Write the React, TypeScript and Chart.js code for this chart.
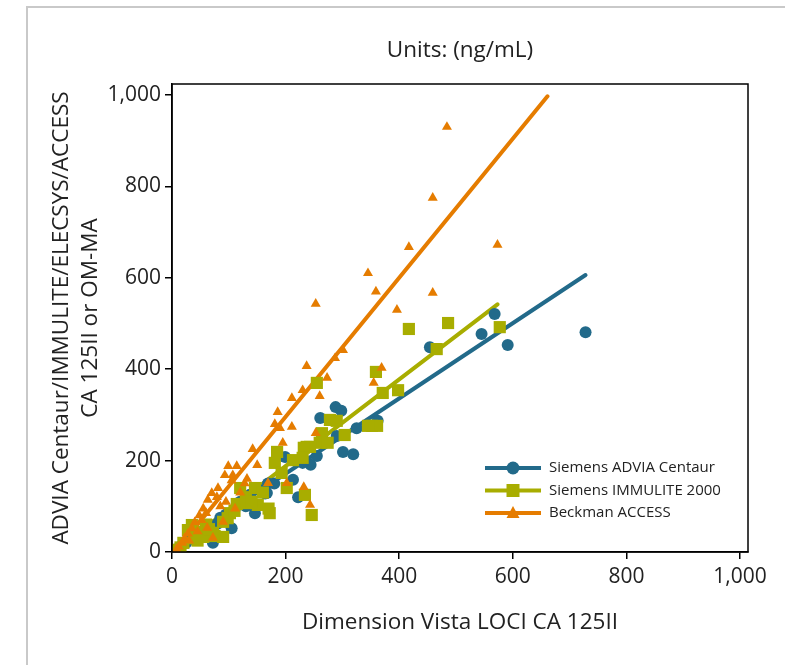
import React, { useEffect, useRef } from 'react';
import { Chart, registerables } from 'chart.js';

Chart.register(...registerables);

// ---- data ----
const centaurX = [728, 568, 545, 591, 454, 362, 348, 325, 288, 298, 261, 290, 301, 319, 244, 213, 222, 167, 146, 137, 105, 72, 199, 169, 164, 120, 95, 60, 40, 25, 15, 50, 80, 110, 130, 155, 180, 230, 255, 8, 30, 65, 85];
const centaurY = [481, 521, 477, 453, 448, 287, 276, 271, 317, 309, 293, 254, 219, 214, 191, 158, 120, 129, 85, 125, 52, 20, 208, 150, 128, 110, 82, 50, 32, 20, 12, 40, 62, 92, 100, 135, 150, 195, 210, 6, 28, 58, 75];

const immuliteX = [486, 417, 577, 466, 359, 371, 398, 352, 361, 255, 290, 304, 264, 237, 260, 274, 243, 278, 345, 232, 213, 230, 185, 181, 193, 202, 234, 246, 146, 172, 151, 132, 114, 102, 90, 90, 72, 49, 28, 20, 98, 35, 55, 75, 130, 160, 110, 60, 40, 15, 10, 120, 65, 45, 140, 170];
const immuliteY = [501, 488, 492, 444, 394, 348, 354, 276, 276, 370, 287, 256, 260, 230, 239, 239, 230, 289, 276, 228, 201, 206, 219, 195, 173, 140, 125, 81, 140, 85, 103, 107, 105, 85, 66, 33, 42, 44, 48, 20, 74, 59, 33, 35, 120, 130, 90, 60, 30, 10, 5, 140, 50, 25, 110, 95];

const accessX = [484, 459, 417, 573, 345, 359, 459, 396, 253, 369, 355, 301, 287, 237, 273, 260, 230, 211, 186, 181, 211, 190, 195, 253, 142, 150, 99, 114, 93, 107, 105, 132, 81, 169, 202, 232, 243, 111, 90, 62, 72, 70, 79, 63, 55, 48, 40, 35, 28, 22, 18, 12, 8, 30, 45, 52, 60, 85, 95, 120, 128];
const accessY = [930, 775, 667, 672, 610, 570, 567, 530, 543, 403, 370, 442, 424, 407, 381, 341, 354, 337, 306, 280, 274, 271, 239, 260, 225, 190, 188, 188, 168, 168, 157, 160, 140, 151, 151, 142, 103, 95, 66, 53, 31, 129, 120, 114, 95, 80, 65, 52, 40, 30, 20, 12, 6, 25, 45, 70, 85, 100, 110, 130, 150];

// regression line end points
const centaurFitX = [5, 728];
const centaurFitY = [11, 606];
const immuliteFitX = [5, 573];
const immuliteFitY = [3, 542];
const accessFitX = [8, 661];
const accessFitY = [4, 997];

const seriesNames = ['Siemens ADVIA Centaur', 'Siemens IMMULITE 2000', 'Beckman ACCESS'];
const tickValues = [0, 200, 400, 600, 800, 1000];
const titleText = 'Units: (ng/mL)';
const xTitle = 'Dimension Vista LOCI CA 125II';
const yTitle = ['ADVIA Centaur/IMMULITE/ELECSYS/ACCESS', 'CA 125II or OM-MA'];

const BLUE = '#226A8A';
const GREEN = '#A8AD00';
const ORANGE = '#E57C00';
const FONT = '"Open Sans", "Noto Sans", sans-serif';

const pts = (xs: number[], ys: number[]) => xs.map((x, i) => ({ x, y: ys[i] }));
const fmt = (v: number) => Number(v).toLocaleString('en-US');

const boxPlugin = {
  id: 'box',
  afterDraw(chart: any) {
    const { ctx, chartArea: a } = chart;
    ctx.save();
    ctx.strokeStyle = '#000';
    ctx.lineWidth = 1.5;
    ctx.strokeRect(a.left, a.top, a.right - a.left, a.bottom - a.top);
    ctx.restore();
  },
};

const legendPlugin = {
  id: 'customLegend',
  afterDraw(chart: any) {
    const { ctx, chartArea: a } = chart;
    const colors = [BLUE, GREEN, ORANGE];
    const x0 = a.right - 263;
    const x1 = x0 + 56;
    const mx = (x0 + x1) / 2;
    ctx.save();
    ctx.font = `15px ${FONT}`;
    ctx.textBaseline = 'middle';
    ctx.textAlign = 'left';
    seriesNames.forEach((name, i) => {
      const y = a.bottom - 84 + i * 22.5;
      ctx.strokeStyle = colors[i];
      ctx.fillStyle = colors[i];
      ctx.lineWidth = 4;
      ctx.beginPath();
      ctx.moveTo(x0, y);
      ctx.lineTo(x1, y);
      ctx.stroke();
      ctx.beginPath();
      if (i === 0) {
        ctx.arc(mx, y, 6.5, 0, Math.PI * 2);
      } else if (i === 1) {
        ctx.rect(mx - 6.5, y - 6.5, 13, 13);
      } else {
        ctx.moveTo(mx, y - 7);
        ctx.lineTo(mx + 6.5, y + 5);
        ctx.lineTo(mx - 6.5, y + 5);
        ctx.closePath();
      }
      ctx.fill();
      ctx.fillStyle = '#222';
      ctx.fillText(name, x1 + 8, y);
    });
    ctx.restore();
  },
};

export default function App() {
  const ref = useRef<HTMLCanvasElement | null>(null);

  useEffect(() => {
    if (!ref.current) return;
    const tickFont = { family: FONT, size: 21 };
    const setTicks = (s: any) => {
      s.ticks = tickValues.map((v) => ({ value: v }));
    };
    const chart = new Chart(ref.current, {
      type: 'scatter',
      data: {
        datasets: [
          { label: seriesNames[2], data: pts(accessX, accessY), pointStyle: 'triangle', pointRadius: 5.8, backgroundColor: ORANGE, borderColor: ORANGE, pointBorderWidth: 0, showLine: false, order: 0 },
          { label: seriesNames[1], data: pts(immuliteX, immuliteY), pointStyle: 'rect', pointRadius: 8.6, backgroundColor: GREEN, borderColor: GREEN, pointBorderWidth: 0, showLine: false, order: 1 },
          { label: seriesNames[0], data: pts(centaurX, centaurY), pointStyle: 'circle', pointRadius: 6, backgroundColor: BLUE, borderColor: BLUE, pointBorderWidth: 0, showLine: false, order: 2 },
          { label: 'fit3', data: pts(accessFitX, accessFitY), showLine: true, pointRadius: 0, borderColor: ORANGE, borderWidth: 4, borderCapStyle: 'round', order: 10 },
          { label: 'fit2', data: pts(immuliteFitX, immuliteFitY), showLine: true, pointRadius: 0, borderColor: GREEN, borderWidth: 4, borderCapStyle: 'round', order: 11 },
          { label: 'fit1', data: pts(centaurFitX, centaurFitY), showLine: true, pointRadius: 0, borderColor: BLUE, borderWidth: 4, borderCapStyle: 'round', order: 12 },
        ] as any,
      },
      options: {
        animation: false,
        responsive: false,
        events: [],
        layout: { padding: { left: 0, right: 37, top: 0, bottom: 0 } },
        plugins: {
          legend: { display: false },
          tooltip: { enabled: false },
          title: {
            display: true,
            fullSize: false,
            text: titleText,
            color: '#222',
            font: { family: FONT, size: 22.5, weight: 'normal', lineHeight: 1.2 },
            padding: { top: 37, bottom: 20 },
          },
        },
        scales: {
          x: {
            type: 'linear',
            min: 0,
            max: 1014,
            afterBuildTicks: setTicks,
            afterFit: (s: any) => { s.height = 113; },
            ticks: { callback: (v: any) => fmt(v), font: tickFont, color: '#222', padding: 5, maxRotation: 0, autoSkip: false },
            grid: { display: true, drawOnChartArea: false, drawTicks: true, tickLength: 7, color: '#000', lineWidth: 1.5 },
            border: { display: true, color: '#000', width: 1.5 },
            title: { display: true, text: xTitle, color: '#222', font: { family: FONT, size: 22.5, lineHeight: 1.2 }, padding: { top: 0, bottom: 29 } },
          },
          y: {
            type: 'linear',
            min: 0,
            max: 1024,
            afterBuildTicks: setTicks,
            afterFit: (s: any) => { s.width = 172; },
            ticks: { callback: (v: any) => fmt(v), font: tickFont, color: '#222', padding: 4, autoSkip: false },
            grid: { display: true, drawOnChartArea: false, drawTicks: true, tickLength: 7, color: '#000', lineWidth: 1.5 },
            border: { display: true, color: '#000', width: 1.5 },
            title: { display: true, text: yTitle, color: '#222', font: { family: FONT, size: 22.5, lineHeight: 1.25 }, padding: { top: 48, bottom: 0 } },
          },
        },
      },
      plugins: [boxPlugin, legendPlugin],
    });
    return () => chart.destroy();
  }, []);

  return (
    <div style={{ position: 'fixed', left: 0, top: 0, width: 785, height: 665, background: '#fff', overflow: 'hidden' }}>
      <div style={{ position: 'absolute', left: 26, top: 6, width: 800, height: 700, borderLeft: '2px solid #c9c9c9', borderTop: '2px solid #c9c9c9' }} />
      <canvas ref={ref} width={785} height={665} style={{ position: 'absolute', left: 0, top: 0, display: 'block' }} />
    </div>
  );
}
